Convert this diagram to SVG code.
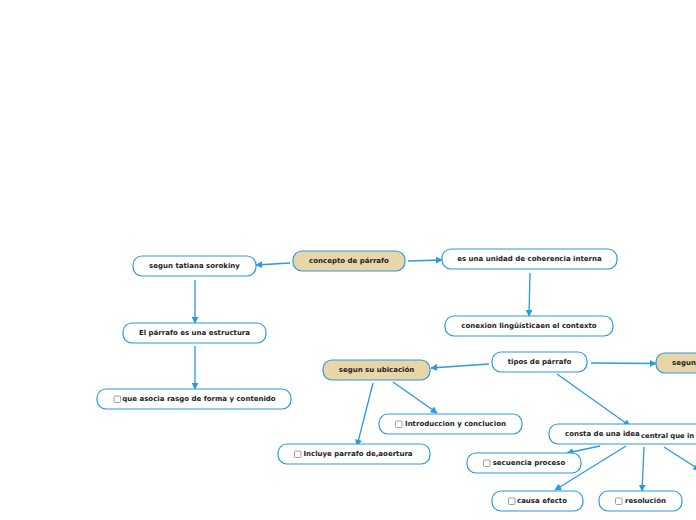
<svg xmlns="http://www.w3.org/2000/svg" width="696" height="520" viewBox="0 0 696 520">
<defs>
<marker id="ah" viewBox="0 0 10 10" refX="9" refY="5" markerWidth="7" markerHeight="7" markerUnits="userSpaceOnUse" orient="auto">
<path d="M0,0 L10,5 L0,10 z" fill="#2a9ae0"/>
</marker>
<style>
.n rect.b{fill:#fff;stroke:#2a9ae0;stroke-width:1.2}
.n rect.m{fill:#e8d5a8;stroke:#2a9ae0;stroke-width:1.2}
.n text{font-family:"DejaVu Sans",Verdana,sans-serif;font-size:7px;font-weight:bold;fill:#222;text-anchor:middle;dominant-baseline:central}
.n rect.cb{fill:#fff;stroke:#888;stroke-width:0.8}
#c path{stroke:#2a9ae0;stroke-width:1.3;fill:none;marker-end:url(#ah)}
</style>
</defs>
<rect width="696" height="520" fill="#fff"/>
<g id="c">
<path d="M290,263 L256,265"/>
<path d="M408,261 L442,260"/>
<path d="M195,280 L195,323"/>
<path d="M195,346 L195,389"/>
<path d="M530,273 L529,316"/>
<path d="M489,364 L431,368"/>
<path d="M591,363 L656,363.5"/>
<path d="M557,374 L630,426"/>
<path d="M373,383 L357,446"/>
<path d="M393,382 L437,413"/>
<path d="M600,446 L567,453"/>
<path d="M626,446 L555,490"/>
<path d="M644,447 L642,491"/>
<path d="M664,447 L700,470"/>
</g>
<g id="n1" class="n"><rect class="m" x="293" y="251" width="112" height="20" rx="9"/><text x="349" y="261">concepto de párrafo</text></g>
<g id="n2" class="n"><rect class="b" x="133" y="256" width="123" height="20" rx="9"/><text x="194.5" y="266">segun tatiana sorokiny</text></g>
<g id="n3" class="n"><rect class="b" x="123" y="323" width="143" height="20" rx="9"/><text x="194.5" y="333">El párrafo es una estructura</text></g>
<g id="n4" class="n"><rect class="b" x="97" y="389" width="194" height="20" rx="9"/><rect class="cb" x="114" y="396" width="6.5" height="6.5" rx="1"/><text x="199" y="399">que asocia rasgo de forma y contenido</text></g>
<g id="n5" class="n"><rect class="b" x="442" y="249" width="175" height="20" rx="9"/><text x="529.5" y="259">es una unidad de coherencia interna</text></g>
<g id="n6" class="n"><rect class="b" x="445" y="316" width="168" height="20" rx="9"/><text x="529" y="326">conexion lingüísticaen el contexto</text></g>
<g id="n7" class="n"><rect class="b" x="492" y="352" width="95" height="20" rx="9"/><text x="539.5" y="362">tipos de párrafo</text></g>
<g id="n8" class="n"><rect class="m" x="656" y="353" width="60" height="20" rx="9"/><text x="672" y="363" style="text-anchor:start">segun</text></g>
<g id="n9" class="n"><rect class="m" x="323" y="360" width="107" height="20" rx="9"/><text x="376.5" y="370">segun su ubicación</text></g>
<g id="n10" class="n"><rect class="b" x="379" y="414" width="143" height="20" rx="9"/><rect class="cb" x="395.5" y="421" width="6.5" height="6.5" rx="1"/><text x="455.5" y="424">Introduccion y conclucion</text></g>
<g id="n11" class="n"><rect class="b" x="278" y="444" width="152" height="20" rx="9"/><rect class="cb" x="294.5" y="451" width="6.5" height="6.5" rx="1"/><text x="358" y="454">Incluye parrafo de,aoertura</text></g>
<g id="n12" class="n"><rect class="b" x="549" y="424" width="170" height="20" rx="9"/><text x="565" y="434" style="text-anchor:start">consta de una idea</text><text x="641" y="435.5" style="text-anchor:start;font-size:6.8px">central que in</text></g>
<g id="n13" class="n"><rect class="b" x="467" y="453" width="114" height="20" rx="9"/><rect class="cb" x="483.5" y="460" width="6.5" height="6.5" rx="1"/><text x="529" y="463">secuencia proceso</text></g>
<g id="n14" class="n"><rect class="b" x="492" y="491" width="91" height="20" rx="9"/><rect class="cb" x="508.5" y="498" width="6.5" height="6.5" rx="1"/><text x="542" y="501">causa efecto</text></g>
<g id="n15" class="n"><rect class="b" x="599" y="491" width="83" height="20" rx="9"/><rect class="cb" x="615.5" y="498" width="6.5" height="6.5" rx="1"/><text x="645.5" y="501">resolución</text></g>
</svg>
